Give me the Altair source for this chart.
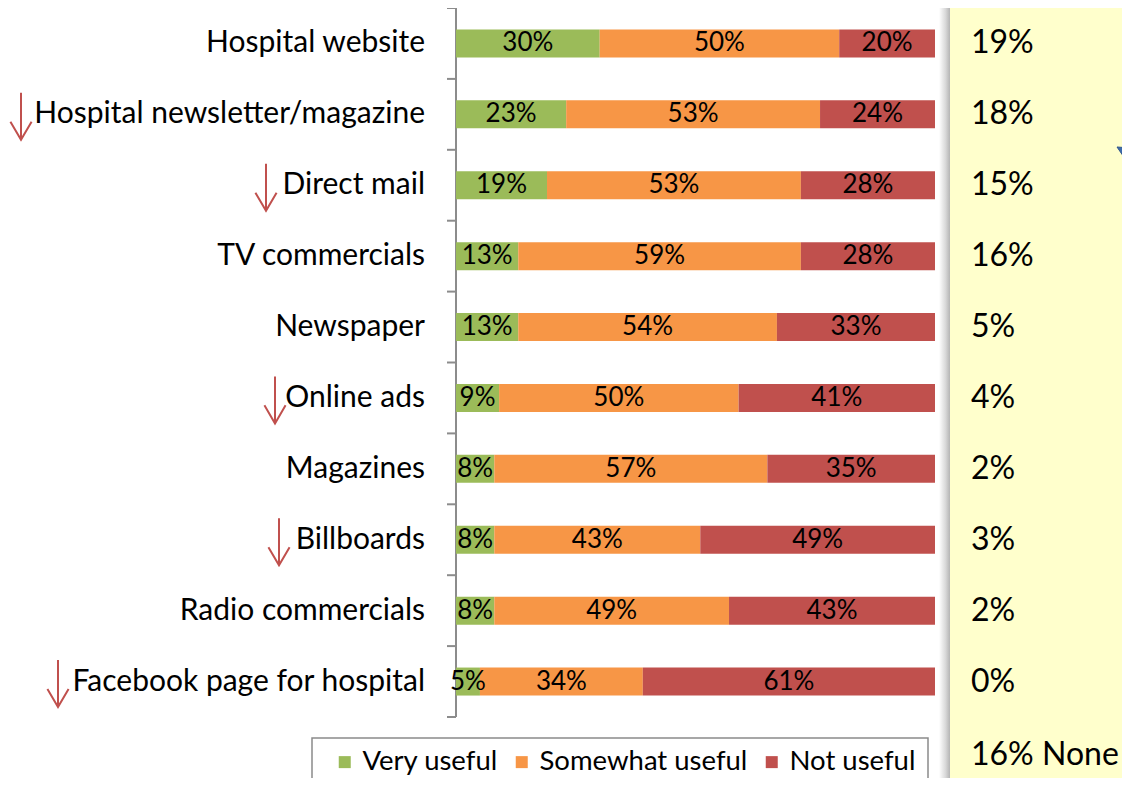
import altair as alt
import pandas as pd

categories = ["Hospital website", "Hospital newsletter/magazine", "Direct mail",
              "TV commercials", "Newspaper", "Online ads", "Magazines",
              "Billboards", "Radio commercials", "Facebook page for hospital"]
very_useful = [30, 23, 19, 13, 13, 9, 8, 8, 8, 5]
somewhat_useful = [50, 53, 53, 59, 54, 50, 57, 43, 49, 34]
not_useful = [20, 24, 28, 28, 33, 41, 35, 49, 43, 61]
side_values = ["19%", "18%", "15%", "16%", "5%", "4%", "2%", "3%", "2%", "0%"]
none_label = "16% None"
declined = ["Hospital newsletter/magazine", "Direct mail", "Online ads",
            "Billboards", "Facebook page for hospital"]
levels = ["Very useful", "Somewhat useful", "Not useful"]
colors = ["#9BBB59", "#F79646", "#C0504D"]

# styling / layout (plot coordinates)
W, H = 1114, 770
FONT = "Lato"
arrow_x = {"Hospital newsletter/magazine": 13, "Direct mail": 258,
           "Online ads": 267, "Billboards": 271, "Facebook page for hospital": 50}

rows = []
for i, c in enumerate(categories):
    for k, (lvl, vals) in enumerate(zip(levels, [very_useful, somewhat_useful, not_useful])):
        rows.append({"category": c, "level": lvl, "value": vals[i], "ord": k,
                     "lab": f"{vals[i]}%"})
df = pd.DataFrame(rows)
cat_df = pd.DataFrame({"category": categories, "side": side_values})
one = pd.DataFrame({"k": [0]})

ys = alt.Scale(domain=categories, range=[0, 709], paddingInner=0, paddingOuter=0)
xs = alt.Scale(domain=[0, 100], range=[448, 927])

panel = alt.Chart(one).mark_rect(color="#FFFFCC").encode(
    x=alt.value(942), x2=alt.value(W + 20), y=alt.value(-10), y2=alt.value(H + 10))
shadow = alt.Chart(one).mark_rect(
    color=alt.LinearGradient(gradient="linear", x1=0, x2=1, y1=0, y2=0,
                             stops=[alt.GradientStop(color="#ffffff", offset=0),
                                    alt.GradientStop(color="#d8d8d8", offset=0.6),
                                    alt.GradientStop(color="#b4b4b4", offset=1)])
).encode(x=alt.value(931), x2=alt.value(942), y=alt.value(-10), y2=alt.value(H + 10))

blue_tip = alt.Chart(one).mark_point(
    shape="M-0.7,-0.9L0.6,-0.8L0.6,1Z", filled=True, color="#3D6BAA",
    size=400, opacity=1, stroke="#2F558C", strokeWidth=1
).encode(x=alt.value(1116), y=alt.value(148))

legend_box = alt.Chart(one).mark_rect(
    fill="white", stroke="#8a8a8a", strokeWidth=1.5
).encode(x=alt.value(304), x2=alt.value(920), y=alt.value(730), y2=alt.value(H + 20))

bars = alt.Chart(df).mark_bar(size=28).encode(
    x=alt.X("value:Q", stack="zero", scale=xs, axis=None),
    y=alt.Y("category:N", scale=ys, axis=None),
    color=alt.Color("level:N", scale=alt.Scale(domain=levels, range=colors),
                    legend=alt.Legend(orient="none", legendX=323, legendY=740,
                                      direction="horizontal", title=None,
                                      symbolType="square", symbolSize=144,
                                      symbolStrokeWidth=0, labelFontSize=27.5,
                                      labelFont=FONT, labelColor="black",
                                      labelLimit=0, padding=0,
                                      columnPadding=10, labelOffset=4)),
    order=alt.Order("ord:Q"),
)

bar_labels = alt.Chart(df).transform_stack(
    stack="value", as_=["v0", "v1"], groupby=["category"],
    sort=[alt.SortField("ord", order="ascending")]
).transform_calculate(mid="(datum.v0 + datum.v1) / 2").mark_text(
    fontSize=26, font=FONT, color="black", baseline="middle"
).encode(
    x=alt.X("mid:Q", scale=xs, axis=None),
    y=alt.Y("category:N", scale=ys, axis=None),
    text="lab:N",
)

axis_line = alt.Chart(one).mark_rule(color="#8c8c8c", strokeWidth=2).encode(
    x=alt.value(448), y=alt.value(0), y2=alt.value(709))
ticks = alt.Chart(cat_df).mark_rule(color="#8c8c8c", strokeWidth=2).encode(
    x=alt.value(439), x2=alt.value(448),
    y=alt.Y("category:N", scale=ys, bandPosition=0, axis=None))
last_tick = alt.Chart(cat_df.tail(1)).mark_rule(color="#8c8c8c", strokeWidth=2).encode(
    x=alt.value(439), x2=alt.value(448),
    y=alt.Y("category:N", scale=ys, bandPosition=1, axis=None))

cat_labels = alt.Chart(cat_df).mark_text(
    align="right", baseline="middle", fontSize=30, font=FONT, color="black"
).encode(x=alt.value(417), y=alt.Y("category:N", scale=ys, axis=None), text="category:N")

side_labels = alt.Chart(cat_df).mark_text(
    align="left", baseline="middle", fontSize=32, font=FONT, color="black"
).encode(x=alt.value(963), y=alt.Y("category:N", scale=ys, axis=None), text="side:N")

none_text = alt.Chart(pd.DataFrame({"t": [none_label]})).mark_text(
    align="left", baseline="middle", fontSize=32, font=FONT, color="black"
).encode(x=alt.value(963), y=alt.value(747), text="t:N")

arrows = []
for c in declined:
    arrows.append(
        alt.Chart(pd.DataFrame({"category": [c]})).mark_point(
            shape="M0,-1L0,1M-0.45,0.23L0,1L0.45,0.23", filled=False,
            color="#C0504D", strokeWidth=2, size=2209, yOffset=2, opacity=1
        ).encode(x=alt.value(arrow_x[c]), y=alt.Y("category:N", scale=ys, axis=None))
    )

chart = alt.layer(panel, shadow, blue_tip, legend_box, axis_line, ticks, last_tick,
                  bars, bar_labels, cat_labels, side_labels, none_text,
                  *arrows).properties(
    width=W, height=H, autosize=alt.AutoSizeParams(type="none"), padding=0,
    background="white"
).configure_view(stroke=None)

chart.save("out.html", embed_options={"renderer": "svg", "actions": False})
